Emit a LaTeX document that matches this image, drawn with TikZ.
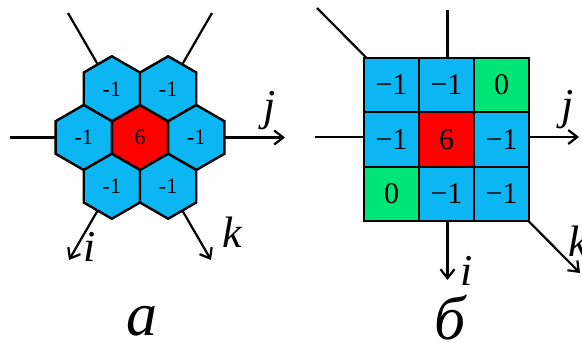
\documentclass[tikz,border=0pt]{standalone}
\usepackage{fontspec}
\setmainfont{Liberation Serif}
\usetikzlibrary{shapes.geometric,arrows.meta,positioning}
\definecolor{cellBlue}{HTML}{0BB6F2}
\definecolor{cellRed}{HTML}{FF0000}
\definecolor{cellGreen}{HTML}{00E676}

\begin{document}
\begin{tikzpicture}[
    x=1pt, y=-1pt,
    hexcell/.style={draw, line width=2.4pt, regular polygon, regular polygon sides=6, shape border rotate=30,
                    minimum size=65pt, inner sep=0pt, outer sep=0pt, fill=cellBlue, font=\fontsize{22}{24}\selectfont},
    sqcell/.style={draw, line width=2.4pt, rectangle, minimum width=55pt, minimum height=54.5pt,
                   inner sep=0pt, outer sep=0pt, fill=cellBlue, font=\fontsize{30}{32}\selectfont},
    arrow/.style={-{Straight Barb[length=9pt,width=14pt]}, line width=2.2pt},
    lbl/.style={font=\fontsize{44}{46}\selectfont\itshape, inner sep=0pt},
    caption/.style={font=\fontsize{62}{64}\selectfont\itshape, inner sep=0pt}
]
    \clip (0,0) rectangle (582,343);

    % (a) hexagonal neighbourhood
    \coordinate (aJfrom) at (10,137.5);
    \coordinate (aJto) at (285,137.5);
    \coordinate (aKfrom) at (68,13);
    \coordinate (aKto) at (211,260);
    \coordinate (aIfrom) at (212,13);
    \coordinate (aIto) at (69,260);
    \draw[arrow] (aJfrom) -- (aJto);
    \draw[arrow] (aKfrom) -- (aKto);
    \draw[arrow] (aIfrom) -- (aIto);

    \node[hexcell, fill=cellRed] (hc) at (140,137.5) {6};
    \node[hexcell] (hul) at (111.85,88.75) {-1};
    \node[hexcell] (hur) at (168.15,88.75) {-1};
    \node[hexcell] (hl) at (83.7,137.5) {-1};
    \node[hexcell] (hr) at (196.3,137.5) {-1};
    \node[hexcell] (hll) at (111.85,186.25) {-1};
    \node[hexcell] (hlr) at (168.15,186.25) {-1};

    \node[lbl] (aJ) at (270,111) {j};
    \node[lbl] (aK) at (232,232) {k};
    \node[lbl] (aI) at (90,247) {i};
    \node[caption] (capA) at (142,321) {а};

    % (b) square neighbourhood
    \coordinate (bJfrom) at (315,137);
    \coordinate (bJto) at (579,137);
    \coordinate (bIfrom) at (447.5,10);
    \coordinate (bIto) at (447.5,280);
    \coordinate (bKfrom) at (317,8);
    \coordinate (bKto) at (580,273);
    \draw[arrow] (bJfrom) -- (bJto);
    \draw[arrow] (bIfrom) -- (bIto);
    \draw[arrow] (bKfrom) -- (bKto);

    \node[sqcell, fill=cellRed] (s22) at (446.5,139.5) {6};
    \node[sqcell, left=0pt of s22] (s21) {−1};
    \node[sqcell, right=0pt of s22] (s23) {−1};
    \node[sqcell, above=0pt of s22] (s12) {−1};
    \node[sqcell, below=0pt of s22] (s32) {−1};
    \node[sqcell, left=0pt of s12] (s11) {−1};
    \node[sqcell, fill=cellGreen, right=0pt of s12] (s13) {0};
    \node[sqcell, fill=cellGreen, left=0pt of s32] (s31) {0};
    \node[sqcell, right=0pt of s32] (s33) {−1};

    \node[lbl] (bJ) at (568,110) {j};
    \node[lbl] (bK) at (578,241) {k};
    \node[lbl] (bI) at (467,271) {i};
    \node[caption] (capB) at (450,318) {б};
\end{tikzpicture}
\end{document}
